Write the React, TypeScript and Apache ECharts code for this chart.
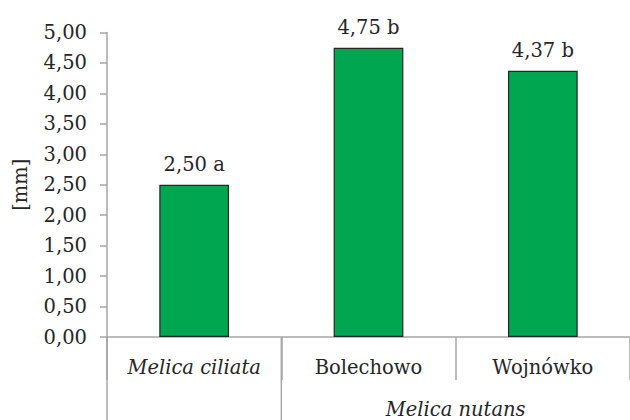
import React, { useEffect, useRef } from "react";
import * as echarts from "echarts";

const categories = ["Melica ciliata", "Bolechowo", "Wojnówko"];
const italicCats = [true, false, false];
const values = [2.5, 4.75, 4.37];
const letters = ["a", "b", "b"];
const groupLabel = "Melica nutans";
const yTicks = { min: 0, max: 5, interval: 0.5 };

const FONT = "DejaVu Serif";
const FS = 19.5;
const TEXT = "#262626";
const AXIS = "#A6A6A6";

export default function App() {
  const ref = useRef<HTMLDivElement>(null);
  useEffect(() => {
    const chart = echarts.init(ref.current!, null, { renderer: "svg" });
    const fmt = (v: number) => v.toFixed(2).replace(".", ",");
    chart.setOption({
      animation: false,
      textStyle: { fontFamily: FONT },
      grid: { left: 107, right: -9.5, top: 32.5, bottom: 83, containLabel: false },
      xAxis: {
        type: "category",
        data: categories.map((c, i) => ({
          value: c,
          textStyle: { fontStyle: italicCats[i] ? "italic" : "normal", fontFamily: FONT },
        })),
        axisLine: { show: true, lineStyle: { color: AXIS, width: 1.5 } },
        axisTick: { show: true, length: 43, lineStyle: { color: AXIS, width: 1.5 } },
        axisLabel: { color: TEXT, fontFamily: FONT, fontSize: FS, margin: 20 },
      },
      yAxis: {
        type: "value",
        min: yTicks.min,
        max: yTicks.max,
        interval: yTicks.interval,
        name: "[mm]",
        nameLocation: "middle",
        nameGap: 77,
        nameTextStyle: { color: TEXT, fontFamily: FONT, fontSize: FS },
        axisLine: { show: true, lineStyle: { color: AXIS, width: 1.5 } },
        axisTick: { show: true, length: 7, lineStyle: { color: AXIS, width: 1.5 } },
        splitLine: { show: false },
        axisLabel: {
          color: TEXT,
          fontFamily: FONT,
          fontSize: FS,
          margin: 20,
          formatter: (v: number) => fmt(v),
        },
      },
      series: [
        {
          type: "bar",
          data: values,
          barWidth: "40%",
          itemStyle: { color: "#00A650", borderColor: "#262626", borderWidth: 1.2 },
          label: {
            show: true,
            position: "top",
            distance: 10,
            color: TEXT,
            fontFamily: FONT,
            fontSize: FS,
            formatter: (p: any) => fmt(p.value) + " " + letters[p.dataIndex],
          },
        },
      ],
    });
    const x0 = chart.convertToPixel({ xAxisIndex: 0 }, 0) as number;
    const x1 = chart.convertToPixel({ xAxisIndex: 0 }, 1) as number;
    const x2 = chart.convertToPixel({ xAxisIndex: 0 }, 2) as number;
    const half = (x1 - x0) / 2;
    const y0 = chart.convertToPixel({ yAxisIndex: 0 }, 0) as number;
    const H = chart.getHeight();
    chart.setOption({
      graphic: [
        {
          type: "line",
          shape: { x1: x0 - half, y1: y0, x2: x0 - half, y2: H },
          style: { stroke: AXIS, lineWidth: 1.5 },
        },
        {
          type: "line",
          shape: { x1: x1 - half, y1: y0, x2: x1 - half, y2: H },
          style: { stroke: AXIS, lineWidth: 1.5 },
        },
        {
          type: "text",
          x: (x1 + x2) / 2,
          y: y0 + 72,
          style: {
            text: groupLabel,
            fill: TEXT,
            fontFamily: FONT,
            fontSize: FS,
            fontStyle: "italic",
            align: "center",
            verticalAlign: "middle",
          },
        },
      ],
    });
    return () => chart.dispose();
  }, []);
  return (
    <div
      ref={ref}
      style={{ position: "fixed", left: 0, top: 0, width: 630, height: 420, background: "#fff" }}
    />
  );
}
